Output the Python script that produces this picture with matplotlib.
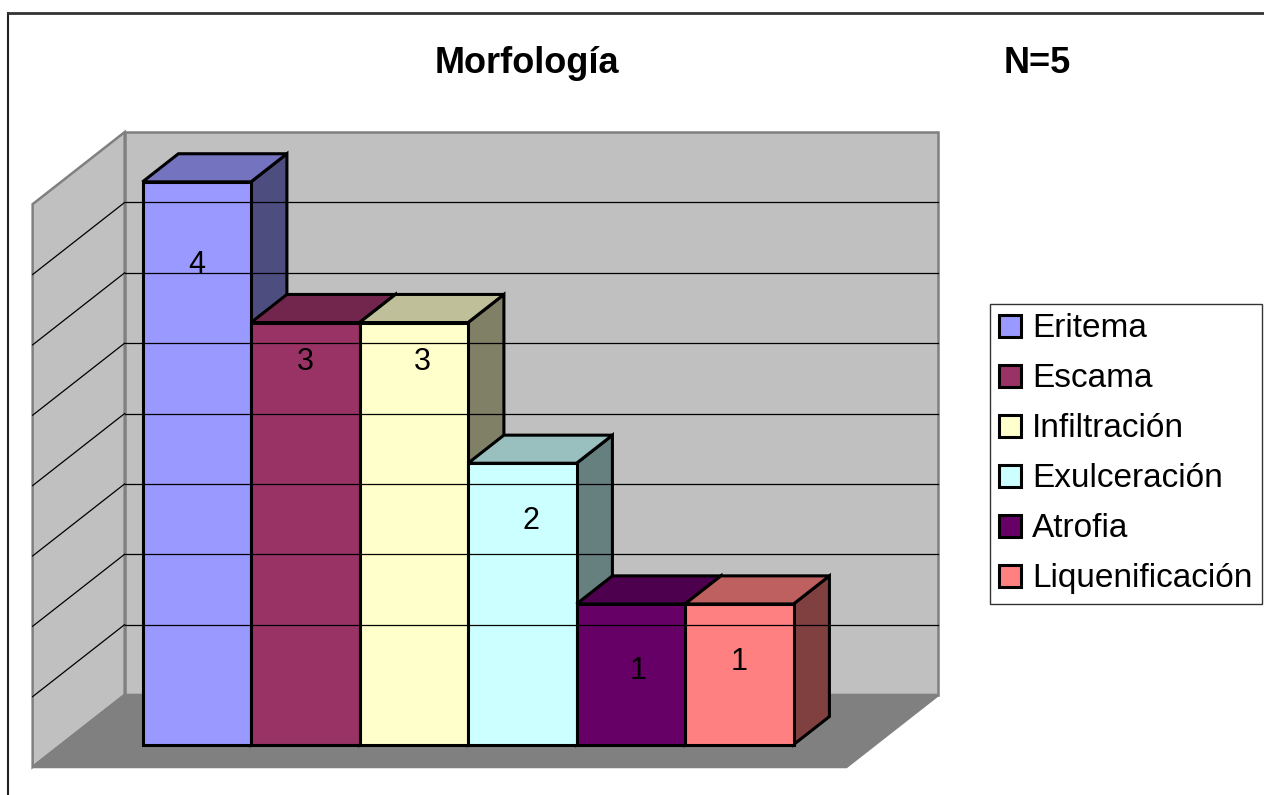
"""Morfología (N=5): Excel-style 3D column chart redrawn with flat polygons."""
import matplotlib
matplotlib.use("Agg")
import matplotlib.pyplot as plt
from matplotlib.patches import Polygon, Patch
from matplotlib.lines import Line2D

plt.rcParams["font.family"] = ["Liberation Sans", "DejaVu Sans"]

categories = ["Eritema", "Escama", "Infiltración", "Exulceración", "Atrofia", "Liquenificación"]
counts = [4, 3, 3, 2, 1, 1]
colors = ["#9999FF", "#993366", "#FFFFCC", "#CCFFFF", "#660066", "#FF8080"]
# where Excel dropped the value labels (below the bar top, shift right)
label_dy = [0.59, 0.28, 0.28, 0.41, 0.48, 0.41]
label_dx = [0.0, 0.0, 0.08, 0.08, 0.07, 0.0]

Y_MAX = 4.0
Y_STEP = 0.5
GAP = 0.75            # floor margin either side of the bar block, in bar widths
DX, DY = 0.848, 0.512  # projection of full floor depth
D0, D1 = 0.31, 0.70    # depth span of the bars


def proj(x, y, d):
    return (x + d * DX, y + d * DY)


def shade(hex_color, f):
    r, g, b = matplotlib.colors.to_rgb(hex_color)
    return (r * f, g * f, b * f)


def main():
    fig = plt.figure(figsize=(12.64, 7.95), dpi=100)
    ax = fig.add_axes([0, 0, 1, 1])
    ax.set_xlim(-1.0507, 10.599)
    ax.set_ylim(-0.199, 5.451)
    ax.axis("off")

    n = len(counts)
    x0, x1 = -GAP, n + GAP

    # walls and floor
    wall = dict(edgecolor="#808080", lw=1.8, joinstyle="miter")
    side = [proj(x0, 0, 0), proj(x0, 0, 1), proj(x0, Y_MAX, 1), proj(x0, Y_MAX, 0)]
    back = [proj(x0, 0, 1), proj(x1, 0, 1), proj(x1, Y_MAX, 1), proj(x0, Y_MAX, 1)]
    floor = [proj(x0, 0, 0), proj(x1, 0, 0), proj(x1, 0, 1), proj(x0, 0, 1)]
    ax.add_patch(Polygon(side, facecolor="#C0C0C0", **wall))
    ax.add_patch(Polygon(back, facecolor="#C0C0C0", **wall))

    v = Y_STEP
    while v < Y_MAX - 1e-9:
        a, b = proj(x0, v, 1), proj(x1, v, 1)
        ax.plot([a[0], b[0]], [a[1], b[1]], color="black", lw=0.9)
        c = proj(x0, v, 0)
        ax.plot([a[0], c[0]], [a[1], c[1]], color="black", lw=0.9)
        v += Y_STEP
    ax.add_patch(Polygon(floor, facecolor="#808080", **wall))

    # columns, drawn left to right so each front face covers its neighbour
    edge = dict(edgecolor="black", lw=2.2, joinstyle="miter")
    for i, (val, col) in enumerate(zip(counts, colors)):
        l, r = i, i + 1
        right = [proj(r, 0, D0), proj(r, 0, D1), proj(r, val, D1), proj(r, val, D0)]
        top = [proj(l, val, D0), proj(r, val, D0), proj(r, val, D1), proj(l, val, D1)]
        front = [proj(l, 0, D0), proj(r, 0, D0), proj(r, val, D0), proj(l, val, D0)]
        ax.add_patch(Polygon(right, facecolor=shade(col, 0.5), **edge))
        ax.add_patch(Polygon(top, facecolor=shade(col, 0.75), **edge))
        ax.add_patch(Polygon(front, facecolor=col, **edge))
        lx, ly = proj(i + 0.5 + label_dx[i], val - label_dy[i], D0)
        ax.text(lx, ly, str(val), ha="center", va="center", fontsize=22, color="black")

    fig.text(0.417, 0.920, "Morfología", ha="center", va="center",
             fontsize=26, fontweight="bold")
    fig.text(0.821, 0.920, "N=5", ha="center", va="center",
             fontsize=26, fontweight="bold")

    handles = [Patch(facecolor=c, edgecolor="black", lw=2.2) for c in colors]
    leg = fig.legend(handles, categories, loc="center left",
                     bbox_to_anchor=(0.7832, 0.429), fontsize=24,
                     frameon=True, fancybox=False, shadow=False,
                     handlelength=0.66, handleheight=0.66, handletextpad=0.33,
                     labelspacing=0.57, borderpad=0.28, borderaxespad=0)
    leg.get_frame().set_edgecolor("black")
    leg.get_frame().set_linewidth(1.0)

    # outer chart border (only top and left fall inside the picture)
    fig.add_artist(Line2D([0.0063, 0.0063], [0.0, 0.9836], color="#222222",
                          lw=1.5, transform=fig.transFigure))
    fig.add_artist(Line2D([0.0063, 1.0], [0.9836, 0.9836], color="#333333",
                          lw=2.0, transform=fig.transFigure))

    fig.savefig("out.png", dpi=100)


if __name__ == "__main__":
    main()
